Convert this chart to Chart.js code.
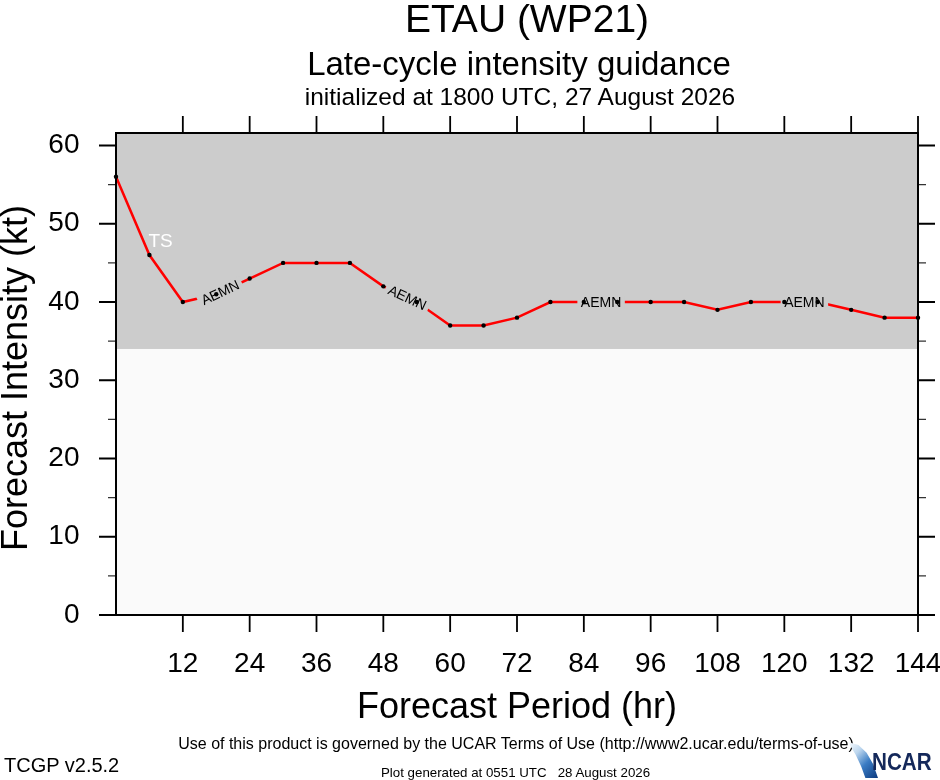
<!DOCTYPE html>
<html>
<head>
<meta charset="utf-8">
<title>ETAU (WP21) late-cycle intensity guidance</title>
<script src="https://cdn.jsdelivr.net/npm/chart.js@4.4.1/dist/chart.umd.min.js"></script>
<style>
  html, body { margin: 0; padding: 0; background: #fff; }
  #wrap {
    position: relative; width: 940px; height: 780px; overflow: hidden;
    font-family: "Liberation Sans", Arial, Helvetica, sans-serif; color: #000;
  }
  #wrap canvas { position: absolute; left: 0; top: 0; }
  .txt { position: absolute; white-space: pre; line-height: 1; }
  .ctr { text-align: center; width: 800px; }
  #swoosh {
    position: absolute; left: 848px; top: 742px; width: 30px; height: 36px;
    background: linear-gradient(135deg, #ffffff 0%, #bcd6ee 30%, #3a7cc4 60%, #0c3a7e 100%);
    clip-path: polygon(0 0, 35% 8%, 62% 30%, 84% 62%, 100% 100%, 58% 100%, 44% 68%, 26% 36%);
  }
  #ncar {
    position: absolute; left: 872px; top: 750px; font-size: 24px; font-weight: bold;
    line-height: 1; color: #14285a; transform: scaleX(0.86); transform-origin: left top;
  }
</style>
</head>
<body>
<div id="wrap">
  <canvas id="intensityChart" width="940" height="780"></canvas>

  <div class="txt ctr" style="left:127px; top:-1px; font-size:39px;">ETAU (WP21)</div>
  <div class="txt ctr" style="left:119px; top:47px; font-size:33px;">Late-cycle intensity guidance</div>
  <div class="txt ctr" style="left:120px; top:85px; font-size:24.5px;">initialized at 1800 UTC, 27 August 2026</div>

  <div class="txt ctr" style="left:117px; top:688px; font-size:36px;">Forecast Period (hr)</div>
  <div class="txt" style="left:-235px; top:360px; width:500px; text-align:center; font-size:36px; transform:rotate(-90deg);">Forecast Intensity (kt)</div>

  <div class="txt ctr" style="left:116px; top:736px; font-size:16px;">Use of this product is governed by the UCAR Terms of Use (http://www2.ucar.edu/terms-of-use)</div>
  <div class="txt" style="left:4px; top:755px; font-size:20px;">TCGP v2.5.2</div>
  <div class="txt" style="left:381px; top:766px; font-size:13.3px;">Plot generated at 0551 UTC   28 August 2026</div>

  <div id="swoosh"></div>
  <div id="ncar">NCAR</div>
</div>

<script>
document.addEventListener("DOMContentLoaded", function () {
    // forecast hours and AEMN intensity (kt)
    const hours = [0, 6, 12, 18, 24, 30, 36, 42, 48, 54, 60, 66, 72, 78, 84, 90, 96, 102, 108, 114, 120, 126, 132, 138, 144];
    const intensity = [56, 46, 40, 41, 43, 45, 45, 45, 42, 40, 37, 37, 38, 40, 40, 40, 40, 40, 39, 40, 40, 40, 39, 38, 38];

    const modelName = "AEMN";
    const labelHours = [18.7, 52.3, 87.1, 123.6]; // where the model name sits on the line

    const xTicks = [12, 24, 36, 48, 60, 72, 84, 96, 108, 120, 132, 144];
    const yTicks = [0, 10, 20, 30, 40, 50, 60];
    const yMinorTicks = [5, 15, 25, 35, 45, 55];

    const tsThreshold = 34; // tropical storm band starts here
    const tsLabel = { text: "TS", hour: 8, kt: 47.7 };

    const fontFamily = '"Liberation Sans", Arial, Helvetica, sans-serif';
    const bandLight = "#fafafa";
    const bandTS = "#cccccc";

    const canvas = document.getElementById("intensityChart");
    const ctx = canvas.getContext("2d");

    if (typeof Chart === "undefined") {
        console.error("Chart.js not loaded");
        return;
    }

    const points = hours.map((h, i) => ({ x: h, y: intensity[i] }));

    // background bands + TS label, frame and tick marks
    const frameAndBands = {
        id: "frameAndBands",
        beforeDatasetsDraw(chart) {
            const { ctx, chartArea: a, scales: { x, y } } = chart;
            ctx.save();
            ctx.fillStyle = bandLight;
            ctx.fillRect(a.left, a.top, a.width, a.height);
            const yTs = y.getPixelForValue(tsThreshold);
            ctx.fillStyle = bandTS;
            ctx.fillRect(a.left, a.top, a.width, yTs - a.top);

            ctx.fillStyle = "#ffffff";
            ctx.font = "19px " + fontFamily;
            ctx.textAlign = "center";
            ctx.textBaseline = "middle";
            ctx.fillText(tsLabel.text, x.getPixelForValue(tsLabel.hour), y.getPixelForValue(tsLabel.kt));
            ctx.restore();
        },
        afterDraw(chart) {
            const { ctx, chartArea: a, scales: { x, y } } = chart;
            ctx.save();
            ctx.strokeStyle = "#000";
            ctx.lineWidth = 1.8;
            ctx.beginPath();
            xTicks.forEach(h => {
                const px = x.getPixelForValue(h);
                ctx.moveTo(px, a.bottom); ctx.lineTo(px, a.bottom + 17);
                ctx.moveTo(px, a.top); ctx.lineTo(px, a.top - 17);
            });
            yTicks.forEach(v => {
                const py = y.getPixelForValue(v);
                ctx.moveTo(a.left - 17, py); ctx.lineTo(a.left, py);
                ctx.moveTo(a.right, py); ctx.lineTo(a.right + 17, py);
            });
            ctx.stroke();

            ctx.lineWidth = 1.4;
            ctx.strokeStyle = "#333";
            ctx.beginPath();
            yMinorTicks.forEach(v => {
                const py = y.getPixelForValue(v);
                ctx.moveTo(a.left - 8, py); ctx.lineTo(a.left, py);
                ctx.moveTo(a.right, py); ctx.lineTo(a.right + 8, py);
            });
            ctx.stroke();

            ctx.lineWidth = 2;
            ctx.strokeStyle = "#000";
            ctx.strokeRect(a.left, a.top, a.width, a.height);
            ctx.restore();
        }
    };

    // model name written along the line, after the line but under the dots
    const lineLabels = {
        id: "lineLabels",
        afterDatasetDraw(chart, args) {
            if (args.index !== 0) return;
            const { ctx, scales: { x, y } } = chart;
            ctx.save();
            ctx.font = "14px " + fontFamily;
            ctx.textAlign = "center";
            ctx.textBaseline = "middle";
            const w = ctx.measureText(modelName).width + 7;
            labelHours.forEach(h => {
                const i = Math.max(0, hours.findIndex(v => v > h) - 1);
                const x0 = x.getPixelForValue(hours[i]);
                const x1 = x.getPixelForValue(hours[i + 1]);
                const y0 = y.getPixelForValue(intensity[i]);
                const y1 = y.getPixelForValue(intensity[i + 1]);
                const t = (h - hours[i]) / (hours[i + 1] - hours[i]);
                const px = x0 + t * (x1 - x0);
                const py = y0 + t * (y1 - y0);
                ctx.save();
                ctx.translate(px, py);
                ctx.rotate(Math.atan2(y1 - y0, x1 - x0));
                ctx.fillStyle = bandTS;
                ctx.fillRect(-w / 2, -7, w, 14);
                ctx.fillStyle = "#000";
                ctx.fillText(modelName, 0, 1);
                ctx.restore();
            });
            ctx.restore();
        }
    };

    const tickFont = { family: fontFamily, size: 28 };

    new Chart(ctx, {
        type: "line",
        data: {
            datasets: [
                {
                    label: modelName,
                    data: points,
                    borderColor: "#ff0000",
                    borderWidth: 2.5,
                    pointRadius: 0,
                    tension: 0,
                    clip: false,
                    order: 2
                },
                {
                    label: modelName + " points",
                    data: points,
                    showLine: false,
                    pointRadius: 2.2,
                    pointBorderWidth: 0,
                    pointBackgroundColor: "#000",
                    clip: false,
                    order: 1
                }
            ]
        },
        options: {
            responsive: false,
            animation: false,
            events: [],
            layout: { padding: { top: 133, right: 22, left: 0, bottom: 0 } },
            plugins: {
                legend: { display: false },
                tooltip: { enabled: false },
                title: { display: false }
            },
            scales: {
                x: {
                    type: "linear",
                    min: 0,
                    max: 144,
                    grid: { display: false, drawTicks: false },
                    border: { display: false },
                    afterBuildTicks: s => { s.ticks = xTicks.map(v => ({ value: v })); },
                    afterFit: s => { s.height = 165; s.paddingLeft = 0; s.paddingRight = 0; },
                    ticks: { color: "#000", font: tickFont, padding: 32, maxRotation: 0, autoSkip: false }
                },
                y: {
                    type: "linear",
                    min: 0,
                    max: 61.6,
                    grid: { display: false, drawTicks: false },
                    border: { display: false },
                    afterBuildTicks: s => { s.ticks = yTicks.map(v => ({ value: v })); },
                    afterFit: s => { s.width = 116; s.paddingTop = 0; s.paddingBottom = 0; },
                    ticks: { color: "#000", font: tickFont, padding: 36.5, autoSkip: false }
                }
            }
        },
        plugins: [frameAndBands, lineLabels]
    });
});
</script>
</body>
</html>
